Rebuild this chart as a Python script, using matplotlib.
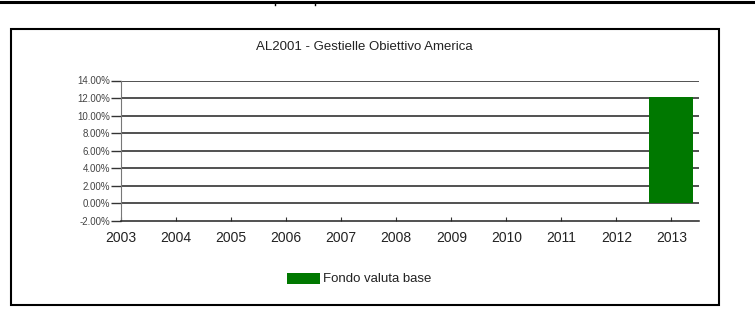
import matplotlib
matplotlib.use("Agg")
import matplotlib.pyplot as plt
from matplotlib.patches import Rectangle

years = ["2003", "2004", "2005", "2006", "2007", "2008", "2009", "2010", "2011", "2012", "2013"]
fondo = [0, 0, 0, 0, 0, 0, 0, 0, 0, 0, 12.1]
yticks = [-2, 0, 2, 4, 6, 8, 10, 12, 14]
title = "AL2001 - Gestielle Obiettivo America"
legend_label = "Fondo valuta base"

W, H = 755, 333
fig = plt.figure(figsize=(W / 100, H / 100), dpi=100)
plt.rcParams['font.family'] = ['Liberation Sans', 'DejaVu Sans']

def fx(px):
    return px / W

def fy(py):
    return 1 - py / H

# top rule
fig.add_artist(plt.Line2D([0, 1], [fy(1.5), fy(1.5)], color='black', lw=2.2))
for px in (275, 315):
    fig.add_artist(plt.Line2D([fx(px), fx(px)], [fy(1.5), fy(5)], color='black', lw=1))

# outer frame
fig.add_artist(Rectangle((fx(11), fy(305)), fx(719) - fx(11), fy(29) - fy(305),
                         fill=False, edgecolor='black', lw=1.5, transform=fig.transFigure))

left, right, top, bottom = 121, 699, 80.5, 221
ax = fig.add_axes([fx(left), fy(bottom), fx(right) - fx(left), fy(top) - fy(bottom)])
x = list(range(len(years)))
ax.bar(x, fondo, width=0.8, color='#007800', zorder=3)
ax.set_xlim(0, 10.5)
ax.set_ylim(-2, 14)
ax.set_yticks(yticks)
ax.set_yticklabels([f"{v:.2f}%" for v in yticks], fontsize=7, color='#444444')
ax.set_xticks(x)
ax.set_xticklabels(years, fontsize=10, color='#222222')
for v in yticks[1:]:
    ax.axhline(v, color='#222222', lw=1.1, zorder=2)
for s in ('top', 'right'):
    ax.spines[s].set_visible(False)
ax.spines['left'].set_color('#777777')
ax.spines['left'].set_linewidth(0.8)
ax.spines['bottom'].set_color('#222222')
ax.spines['bottom'].set_linewidth(1.1)
ax.tick_params(axis='y', length=7, width=1, color='#333333', pad=1)
ax.tick_params(axis='x', direction='in', length=3, width=0.8, color='#333333', pad=7)

fig.text(fx(364), fy(47), title, ha='center', va='center', fontsize=9.5, color='#222222')

fig.add_artist(Rectangle((fx(287), fy(284)), fx(320) - fx(287), fy(273) - fy(284),
                         facecolor='#007800', edgecolor='none', transform=fig.transFigure))
fig.text(fx(323), fy(279), legend_label, ha='left', va='center', fontsize=9.5, color='#222222')

fig.savefig("out.png", dpi=100, facecolor='white')
